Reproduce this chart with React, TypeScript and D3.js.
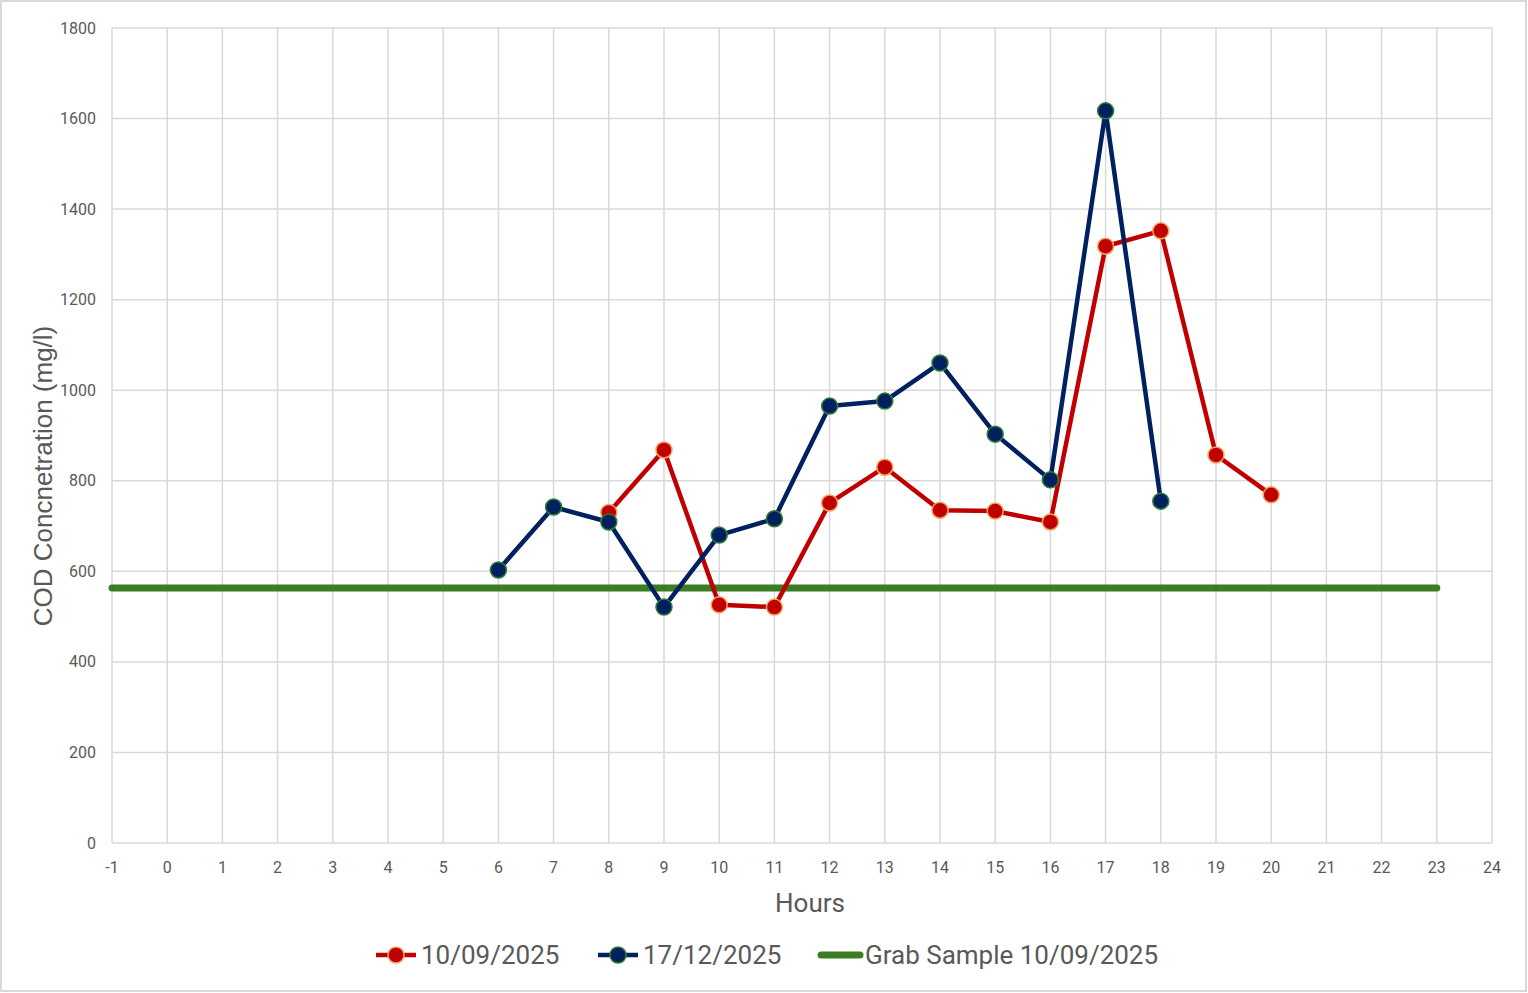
import React, { useLayoutEffect } from "react";
import * as d3 from "d3";

const hoursRed = [8, 9, 10, 11, 12, 13, 14, 15, 16, 17, 18, 19, 20];
const codRed = [730, 868, 526, 521, 751, 830, 735, 733, 709, 1318, 1352, 857, 769];
const hoursBlue = [6, 7, 8, 9, 10, 11, 12, 13, 14, 15, 16, 17, 18];
const codBlue = [603, 742, 709, 521, 680, 716, 965, 976, 1060, 903, 802, 1617, 755];
const grabHours = [-1, 23];
const grabValue = [563, 563];
const xTicks = d3.range(-1, 25);
const yTicks = d3.range(0, 1801, 200);
const seriesNames = ["10/09/2025", "17/12/2025", "Grab Sample 10/09/2025"];

const W = 1528;
const H = 993;
const M = { left: 112, right: 1492, top: 28, bottom: 843 };

const NARROW = "'Roboto', sans-serif";
const REG = "'Liberation Sans', 'Open Sans', sans-serif";

export default function App() {
  useLayoutEffect(() => {
    document.body.style.margin = "0";
    document.body.style.overflow = "hidden";
  }, []);

  const x = d3.scaleLinear().domain([-1, 24]).range([M.left, M.right]);
  const y = d3.scaleLinear().domain([0, 1800]).range([M.bottom, M.top]);
  const line = d3
    .line<[number, number]>()
    .x((d) => x(d[0]))
    .y((d) => y(d[1]));

  const red: [number, number][] = hoursRed.map((h, i) => [h, codRed[i]]);
  const blue: [number, number][] = hoursBlue.map((h, i) => [h, codBlue[i]]);
  const grab: [number, number][] = grabHours.map((h, i) => [h, grabValue[i]]);

  const grid = "#D9D9D9";
  const txt = "#595959";

  return (
    <svg width={W} height={H} style={{ display: "block", background: "#fff" }}>
      <rect x={1} y={1} width={W - 3} height={H - 3} fill="#fff" stroke={grid} strokeWidth={2} />
      {yTicks.map((t) => (
        <line key={"gy" + t} x1={M.left} x2={M.right} y1={y(t)} y2={y(t)} stroke={grid} strokeWidth={1.5} />
      ))}
      {xTicks.map((t) => (
        <line key={"gx" + t} x1={x(t)} x2={x(t)} y1={M.top} y2={M.bottom} stroke={grid} strokeWidth={1.5} />
      ))}
      {yTicks.map((t) => (
        <text key={"ty" + t} x={96} y={y(t)} dy="0.35em" textAnchor="end" fontFamily={NARROW} fontSize={16} fill={txt}>
          {t}
        </text>
      ))}
      {xTicks.map((t) => (
        <text key={"tx" + t} x={x(t)} y={873} textAnchor="middle" fontFamily={NARROW} fontSize={16} fill={txt}>
          {t}
        </text>
      ))}
      <text x={810} y={912} textAnchor="middle" fontFamily={NARROW} fontSize={26} fill={txt}>
        Hours
      </text>
      <text
        transform={`translate(52, 476) rotate(-90)`}
        textAnchor="middle"
        fontFamily={REG}
        fontSize={26}
        fill={txt}
      >
        COD Concnetration (mg/l)
      </text>

      <path d={line(grab) || ""} fill="none" stroke="#3A7D22" strokeWidth={7} strokeLinecap="round" />
      <path d={line(red) || ""} fill="none" stroke="#C00000" strokeWidth={4.5} strokeLinejoin="round" />
      {red.map((d, i) => (
        <circle key={"r" + i} cx={x(d[0])} cy={y(d[1])} r={8} fill="#C00000" stroke="#F4A460" strokeWidth={1.5} />
      ))}
      <path d={line(blue) || ""} fill="none" stroke="#002060" strokeWidth={4.5} strokeLinejoin="round" />
      {blue.map((d, i) => (
        <circle key={"b" + i} cx={x(d[0])} cy={y(d[1])} r={8} fill="#002060" stroke="#2E7D32" strokeWidth={1.5} />
      ))}

      {/* legend */}
      <g fontFamily={NARROW} fontSize={26} fill={txt}>
        <line x1={376} x2={416} y1={955} y2={955} stroke="#C00000" strokeWidth={4.5} />
        <circle cx={396} cy={955} r={8} fill="#C00000" stroke="#F4A460" strokeWidth={1.5} />
        <text x={421} y={955} dy="0.35em">{seriesNames[0]}</text>
        <line x1={598} x2={638} y1={955} y2={955} stroke="#002060" strokeWidth={4.5} />
        <circle cx={618} cy={955} r={8} fill="#002060" stroke="#2E7D32" strokeWidth={1.5} />
        <text x={643} y={955} dy="0.35em">{seriesNames[1]}</text>
        <line x1={821} x2={860} y1={955} y2={955} stroke="#3A7D22" strokeWidth={7} strokeLinecap="round" />
        <text x={865} y={955} dy="0.35em">{seriesNames[2]}</text>
      </g>
    </svg>
  );
}
